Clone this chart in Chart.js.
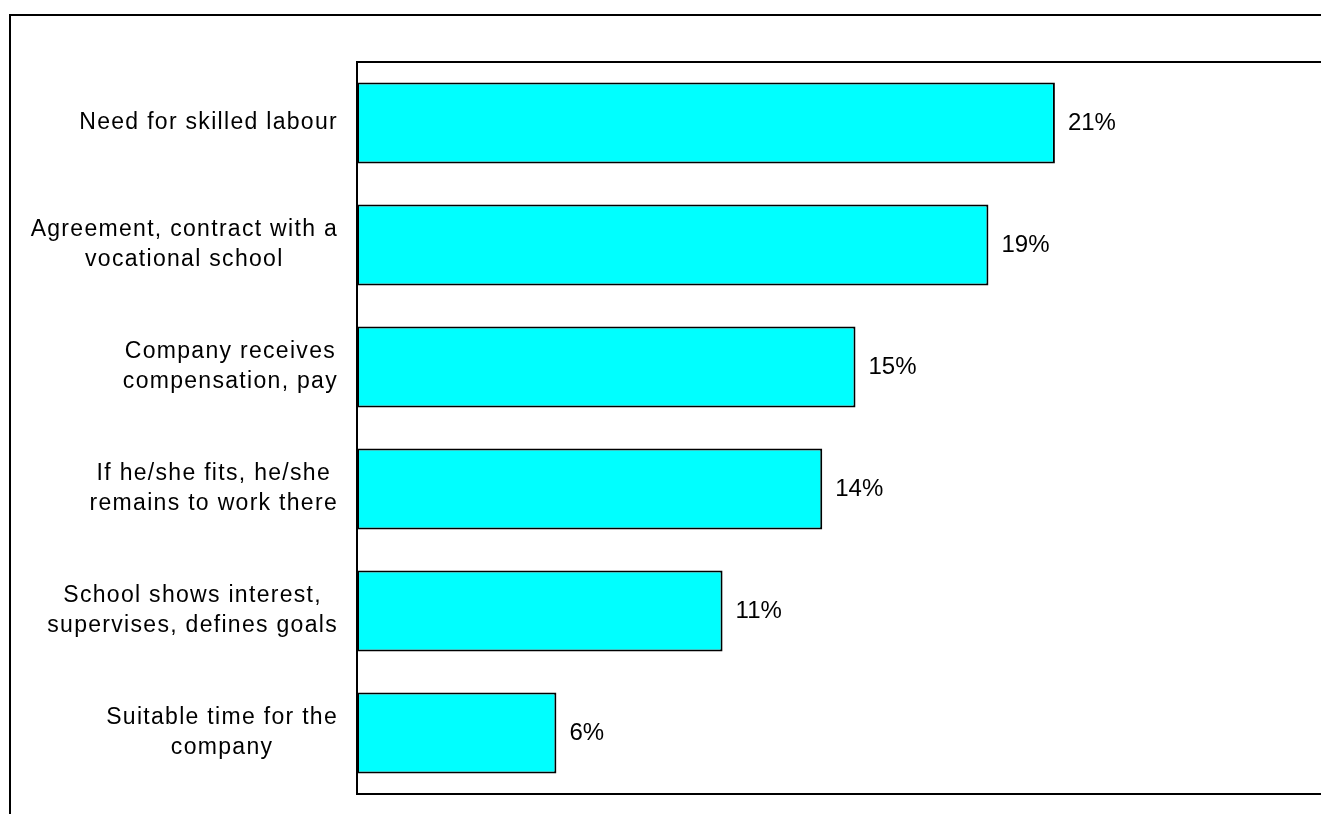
<!DOCTYPE html>
<html>
<head>
<meta charset="utf-8">
<title>Reasons for taking trainees</title>
<script src="https://cdn.jsdelivr.net/npm/chart.js@4/dist/chart.umd.min.js"></script>
<style>
    html, body { margin: 0; padding: 0; background: #fff; overflow: hidden; }
    #wrap { width: 1400px; height: 850px; }
</style>
</head>
<body>
<div id="wrap"><canvas id="myChart" width="1400" height="850"></canvas></div>
<script>
// categories (one array per label line) and the percentages
const labels = [
    ['Need for skilled labour'],
    ['Agreement, contract with a', 'vocational school'],
    ['Company receives', 'compensation, pay'],
    ['If he/she fits, he/she', 'remains to work there'],
    ['School shows interest,', 'supervises, defines goals'],
    ['Suitable time for the', 'company']
];
const values = [21, 19, 15, 14, 11, 6];
const axisMin = 0;
const axisMax = 30;

const fontFamily = '"Liberation Sans", Arial, Helvetica, sans-serif';

// frames + category labels + value labels
const drawExtras = {
    id: 'drawExtras',
    afterDatasetsDraw(chart) {
        const ctx = chart.ctx;
        const area = chart.chartArea;
        const yScale = chart.scales.y;

        ctx.save();
        ctx.strokeStyle = '#000';
        ctx.lineWidth = 2;
        // outer chart frame
        ctx.strokeRect(10, 15, 1375, 830);
        // plot area frame
        ctx.strokeRect(area.left, area.top, area.right - area.left, area.bottom - area.top);

        // category labels: lines centred on each other, block right aligned
        ctx.fillStyle = '#000';
        ctx.font = '23px ' + fontFamily;
        ctx.letterSpacing = '1.3px';
        ctx.textBaseline = 'middle';
        ctx.textAlign = 'center';
        const lineH = 30;
        const rightEdge = area.left - 19;
        labels.forEach(function (lines, i) {
            const yc = yScale.getPixelForTick(i);
            let widest = 0;
            lines.forEach(function (l) {
                widest = Math.max(widest, ctx.measureText(l).width);
            });
            const xc = rightEdge - widest / 2;
            lines.forEach(function (l, j) {
                const y = yc + (j - (lines.length - 1) / 2) * lineH;
                ctx.fillText(l, xc, y);
            });
        });

        // value labels next to the bars
        ctx.letterSpacing = '0px';
        ctx.font = '24px ' + fontFamily;
        ctx.textAlign = 'left';
        const meta = chart.getDatasetMeta(0);
        meta.data.forEach(function (bar, i) {
            ctx.fillText(values[i] + '%', bar.x + 13, bar.y);
        });
        ctx.restore();
    }
};

const ctx = document.getElementById('myChart').getContext('2d');
const myChart = new Chart(ctx, {
    type: 'bar',
    data: {
        labels: labels,
        datasets: [{
            data: values,
            backgroundColor: '#00FFFF',
            borderColor: '#000000',
            borderWidth: 2,
            borderSkipped: false,
            barPercentage: 0.665,
            categoryPercentage: 1.0
        }]
    },
    options: {
        indexAxis: 'y',
        responsive: false,
        animation: false,
        layout: {
            padding: { left: 357, top: 62, right: 46, bottom: 56 }
        },
        plugins: {
            legend: { display: false },
            tooltip: { enabled: false }
        },
        scales: {
            x: { display: false, min: axisMin, max: axisMax },
            y: { display: false }
        }
    },
    plugins: [drawExtras]
});
</script>
</body>
</html>
